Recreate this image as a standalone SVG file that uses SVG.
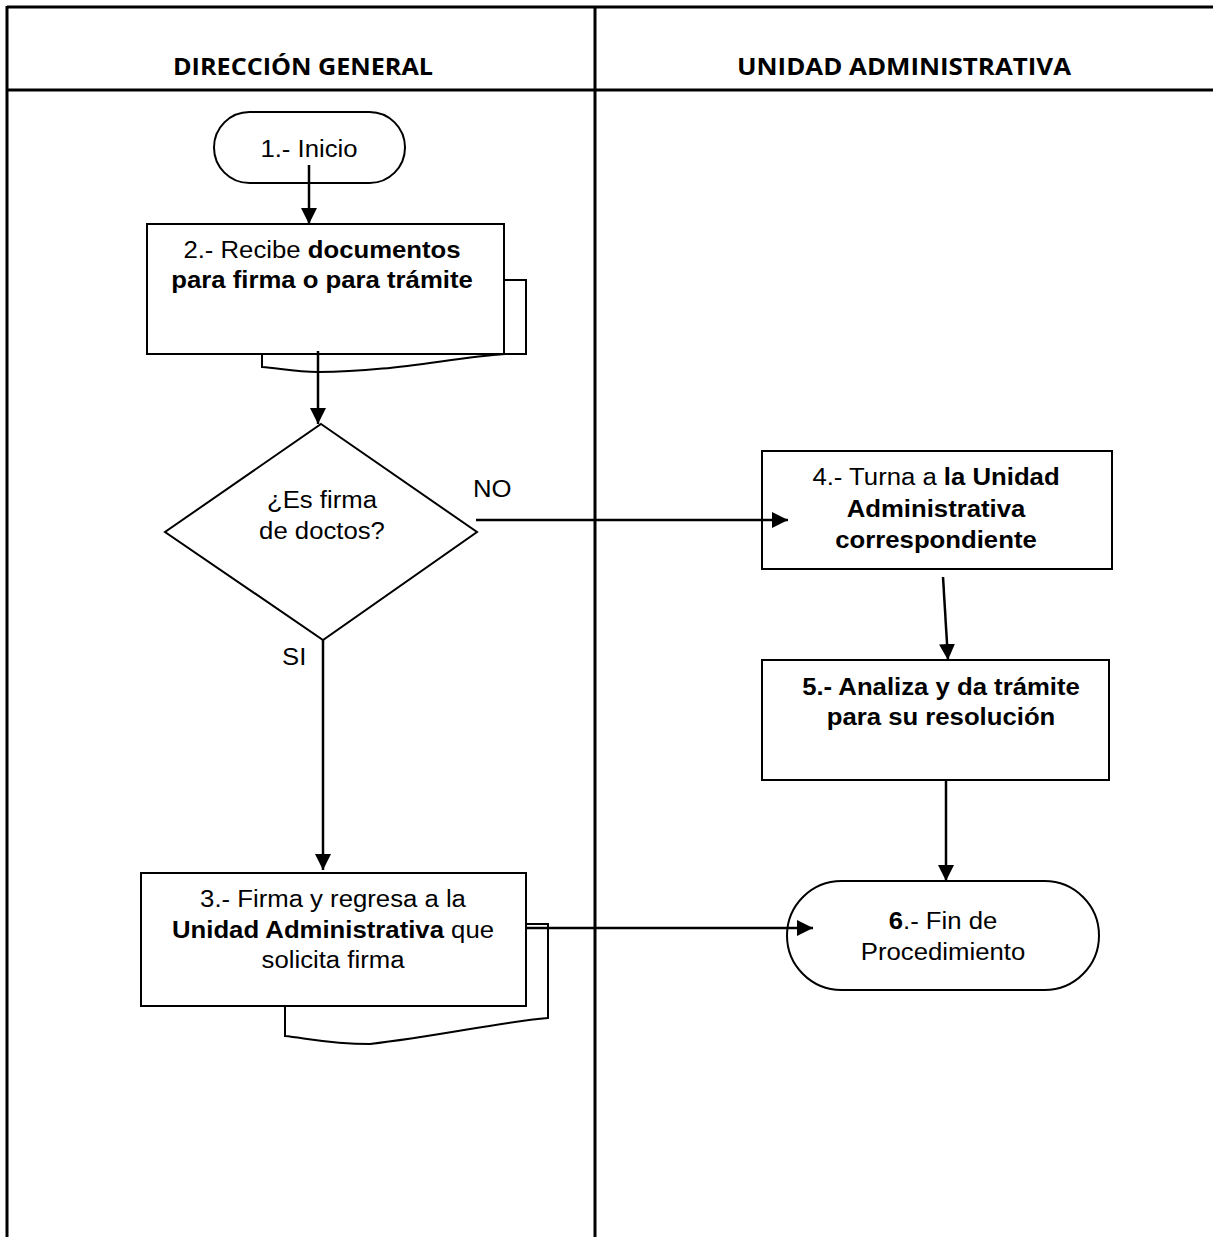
<svg xmlns="http://www.w3.org/2000/svg" width="1213" height="1237" viewBox="0 0 1213 1237">
  <defs>
    <marker id="arrow" markerUnits="userSpaceOnUse" markerWidth="18" markerHeight="18" refX="16" refY="8" orient="auto">
      <path d="M0,0 L16,8 L0,16 z" fill="#000"/>
    </marker>
    <style>
      .lane { stroke: #000; stroke-width: 3; fill: none; }
      .shape { stroke: #000; stroke-width: 2; fill: #fff; }
      .page { stroke: #000; stroke-width: 2; fill: none; }
      .conn { stroke: #000; stroke-width: 2.5; fill: none; marker-end: url(#arrow); }
      .hdr { font-family: "Open Sans", "Liberation Sans", sans-serif; font-weight: 700; font-size: 24px; fill: #000; }
      .txt { font-family: "Liberation Sans", Arial, sans-serif; font-size: 24.5px; fill: #000; text-anchor: middle; }
      .lbl { font-family: "Liberation Sans", Arial, sans-serif; font-size: 24.5px; fill: #000; }
      .b { font-weight: 700; }
    </style>
  </defs>

  <rect width="1213" height="1237" fill="#fff"/>

  <!-- swimlane frame -->
  <g id="lanes">
    <line class="lane" x1="7" y1="7" x2="1213" y2="7"/>
    <line class="lane" x1="7" y1="90" x2="1213" y2="90"/>
    <line class="lane" x1="7" y1="6" x2="7" y2="1237" stroke-width="2"/>
    <line class="lane" x1="595" y1="6" x2="595" y2="1237" stroke-width="2"/>
    <text class="hdr" x="173" y="75" textLength="260" lengthAdjust="spacingAndGlyphs">DIRECCIÓN GENERAL</text>
    <text class="hdr" x="737" y="75" textLength="334" lengthAdjust="spacingAndGlyphs">UNIDAD ADMINISTRATIVA</text>
  </g>

  <!-- 1. start terminator -->
  <g id="n1">
    <rect class="shape" x="214" y="112" width="191" height="71" rx="35.5" ry="35.5"/>
    <text class="txt" transform="translate(309 157) scale(1.05 1)">1.- Inicio</text>
  </g>

  <!-- 2. document: receive -->
  <g id="n2">
    <path class="page" d="M504,280 H526 V354 H505 C450,358 390,372 318,372 C295,372 278,368 262,367 V354"/>
    <rect class="shape" x="147" y="224" width="357" height="130"/>
    <text class="txt" transform="translate(322 258) scale(1.05 1)">2.- Recibe <tspan class="b">documentos</tspan></text>
    <text class="txt b" transform="translate(322 288) scale(1.05 1)">para firma o para trámite</text>
  </g>

  <!-- decision -->
  <g id="d1">
    <polygon class="shape" points="321,424 477,532 323,640 165,532"/>
    <text class="txt" transform="translate(322 508) scale(1.05 1)">¿Es firma</text>
    <text class="txt" transform="translate(322 539) scale(1.05 1)">de doctos?</text>
  </g>

  <!-- 3. document: sign and return -->
  <g id="n3">
    <path class="page" d="M526,924 H548 V1018 C500,1022 440,1036 370,1044 C330,1044 305,1038 285,1036 V1006"/>
    <rect class="shape" x="141" y="873" width="385" height="133"/>
    <text class="txt" transform="translate(333 907) scale(1.05 1)">3.- Firma y regresa a la</text>
    <text class="txt" transform="translate(333 938) scale(1.05 1)"><tspan class="b">Unidad Administrativa</tspan> que</text>
    <text class="txt" transform="translate(333 968) scale(1.05 1)">solicita firma</text>
  </g>

  <!-- 4. forward to unit -->
  <g id="n4">
    <rect class="shape" x="762" y="451" width="350" height="118"/>
    <text class="txt" transform="translate(936 485) scale(1.05 1)">4.- Turna a <tspan class="b">la Unidad</tspan></text>
    <text class="txt b" transform="translate(936 517) scale(1.05 1)">Administrativa</text>
    <text class="txt b" transform="translate(936 548) scale(1.05 1)">correspondiente</text>
  </g>

  <!-- 5. analyse -->
  <g id="n5">
    <rect class="shape" x="762" y="660" width="347" height="120"/>
    <text class="txt b" transform="translate(941 695) scale(1.05 1)">5.- Analiza y da trámite</text>
    <text class="txt b" transform="translate(941 725) scale(1.05 1)">para su resolución</text>
  </g>

  <!-- 6. end terminator -->
  <g id="n6">
    <rect class="shape" x="787" y="881" width="312" height="109" rx="54.5" ry="54.5"/>
    <text class="txt" transform="translate(943 929) scale(1.05 1)"><tspan class="b">6</tspan>.- Fin de</text>
    <text class="txt" transform="translate(943 960) scale(1.05 1)">Procedimiento</text>
  </g>

  <!-- connectors -->
  <g id="connectors">
    <path class="conn" d="M309,165 V224"/>
    <path class="conn" d="M318,351 V424"/>
    <path class="conn" d="M476,520 H788"/>
    <path class="conn" d="M323,640 V870"/>
    <path class="conn" d="M943,577 L948,660"/>
    <path class="conn" d="M946,780 V881"/>
    <path class="conn" d="M526,928 H813"/>
    <text class="lbl" transform="translate(473 497) scale(1.05 1)">NO</text>
    <text class="lbl" transform="translate(282 665) scale(1.05 1)">SI</text>
  </g>
</svg>
